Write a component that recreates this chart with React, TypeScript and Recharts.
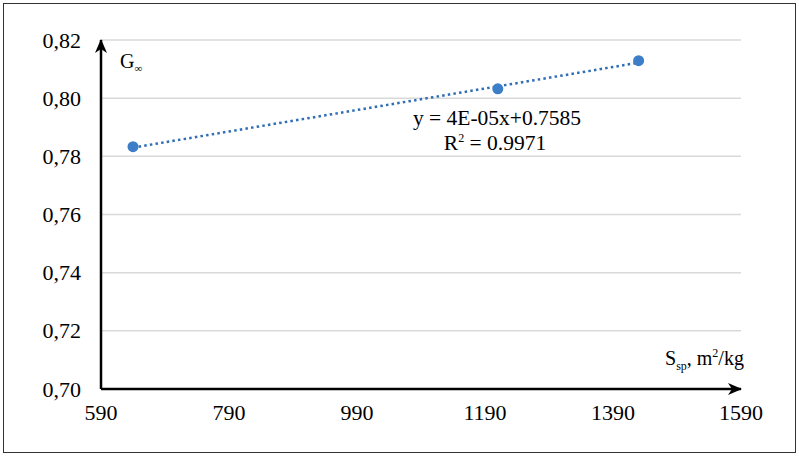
import { Scatter, ScatterChart, XAxis, YAxis, CartesianGrid } from "recharts"

// measured points (specific surface vs G∞)
const surfaceArea = [640, 1210, 1430]
const gInfinity = [0.7833, 0.8032, 0.8129]

// linear trend, drawn between first and last point
const trendX = [640, 1430]
const trendY = [0.783, 0.8122]

const xTicks = [590, 790, 990, 1190, 1390, 1590]
const yTicks = [0.7, 0.72, 0.74, 0.76, 0.78, 0.8, 0.82]

const points = surfaceArea.map((x, i) => ({ x, y: gInfinity[i] }))
const trend = trendX.map((x, i) => ({ x, y: trendY[i] }))

const serif = "Liberation Serif"

const XTick = (props: any) => (
  <text
    x={props.x}
    y={props.y + 31}
    textAnchor="middle"
    fontSize={22}
    style={{ fontFamily: serif }}
    fill="#000"
  >
    {props.payload.value}
  </text>
)

const YTick = (props: any) => (
  <text
    x={props.x}
    y={props.y + 7.5}
    textAnchor="end"
    fontSize={22}
    style={{ fontFamily: serif }}
    fill="#000"
  >
    {Number(props.payload.value).toFixed(2).replace(".", ",")}
  </text>
)

const Dot = (props: any) => <circle cx={props.cx} cy={props.cy} r={5.5} fill="#3c7ec8" />

export default function App() {
  return (
    <div
      style={{
        position: "absolute",
        left: 0,
        top: 0,
        width: 799,
        height: 457,
        background: "#fff",
        fontFamily: serif,
      }}
    >
      <svg width={0} height={0} style={{ position: "absolute" }}>
        <defs>
          <marker
            id="axisArrow"
            viewBox="0 0 14 12"
            refX={13}
            refY={6}
            markerWidth={14}
            markerHeight={12}
            markerUnits="userSpaceOnUse"
            orient="auto-start-reverse"
          >
            <path d="M0,0 L14,6 L0,12 L4,6 Z" fill="#000" />
          </marker>
        </defs>
      </svg>
      <div
        style={{
          position: "absolute",
          left: 3,
          top: 3,
          width: 791,
          height: 448,
          border: "1.5px solid #333",
        }}
      />
      <ScatterChart
        width={799}
        height={457}
        margin={{ top: 40, right: 58, bottom: 0, left: 0 }}
        style={{ fontFamily: serif }}
      >
        <CartesianGrid vertical={false} stroke="#d9d9d9" strokeWidth={1.5} />
        <XAxis
          type="number"
          dataKey="x"
          domain={[590, 1590]}
          ticks={xTicks}
          allowDataOverflow
          height={68}
          tickLine={false}
          tickSize={0}
          tickMargin={0}
          tick={<XTick />}
          axisLine={{ stroke: "#000", strokeWidth: 2.5, markerEnd: "url(#axisArrow)" }}
        />
        <YAxis
          type="number"
          dataKey="y"
          domain={[0.7, 0.82]}
          ticks={yTicks}
          allowDataOverflow
          width={101}
          tickLine={false}
          tickSize={0}
          tickMargin={20}
          tick={<YTick />}
          axisLine={{ stroke: "#000", strokeWidth: 2.5, markerStart: "url(#axisArrow)" }}
        />
        <Scatter
          data={trend}
          line={{ stroke: "#2f6db5", strokeWidth: 2.5, strokeDasharray: "2.5 3.2" }}
          shape={() => <g />}
          isAnimationActive={false}
        />
        <Scatter data={points} shape={<Dot />} isAnimationActive={false} />
      </ScatterChart>
      <svg
        width={799}
        height={457}
        style={{ position: "absolute", left: 0, top: 0, pointerEvents: "none", fontFamily: serif }}
        fill="#000"
      >
        <text x={120} y={68} fontSize={20}>
          G<tspan fontSize={11} dy={4}>∞</tspan>
        </text>
        <text x={497} y={125} fontSize={21.5} textAnchor="middle">
          y = 4E-05x+0.7585
        </text>
        <text x={495} y={150} fontSize={21.5} textAnchor="middle">
          R<tspan fontSize={12} dy={-8}>2</tspan>
          <tspan dy={8}> = 0.9971</tspan>
        </text>
        <text x={665} y={365} fontSize={20}>
          S<tspan fontSize={12} dy={5}>sp</tspan>
          <tspan dy={-5}>, m</tspan>
          <tspan fontSize={12} dy={-8}>2</tspan>
          <tspan dy={8}>/kg</tspan>
        </text>
      </svg>
    </div>
  )
}
